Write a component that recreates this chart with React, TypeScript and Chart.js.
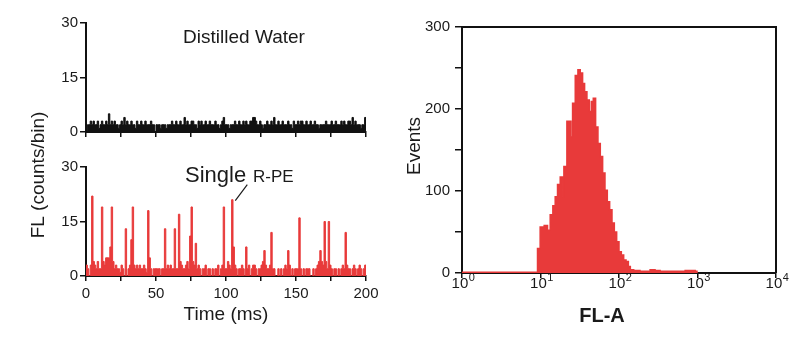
import React, { useEffect, useRef } from 'react';
import { Chart, registerables } from 'chart.js';

Chart.register(...registerables);

const FONT = '"Liberation Sans", Arial, Helvetica, sans-serif';
const TEXT_COLOR = '#1a1a1a';
const AXIS_COLOR = '#111111';
const RED = 'rgb(232, 58, 58)';

// ---- Time traces (1 ms bins, 0..200 ms) ----
const TIME_BIN_MS = 1;
const TIME_TICKS = [0, 25, 50, 75, 100, 125, 150, 175, 200];
const TIME_LABELS = [0, 50, 100, 150, 200];
const TRACE_Y_TICKS = [0, 15, 30];

const WATER_COUNTS = [
  0, 2, 2, 3, 2, 3, 2, 2, 3, 1,
  2, 3, 2, 2, 3, 2, 5, 2, 3, 2,
  3, 2, 2, 1, 2, 3, 2, 4, 2, 3,
  2, 2, 3, 2, 2, 1, 3, 2, 2, 3,
  2, 2, 3, 2, 2, 2, 3, 2, 2, 0,
  2, 2, 2, 1, 2, 2, 2, 1, 2, 2,
  2, 3, 2, 2, 3, 2, 2, 3, 2, 2,
  4, 2, 3, 2, 2, 3, 3, 2, 2, 1,
  3, 2, 3, 2, 2, 3, 2, 2, 3, 2,
  2, 2, 3, 2, 2, 1, 2, 3, 4, 2,
  2, 2, 1, 2, 2, 2, 3, 2, 2, 3,
  2, 2, 3, 2, 3, 2, 2, 3, 3, 4,
  4, 3, 2, 2, 3, 2, 1, 2, 2, 3,
  2, 2, 3, 2, 4, 2, 2, 3, 2, 2,
  3, 2, 2, 2, 3, 2, 2, 1, 3, 2,
  2, 3, 2, 3, 3, 2, 2, 3, 2, 2,
  3, 2, 2, 3, 2, 2, 1, 2, 2, 2,
  2, 3, 2, 2, 2, 3, 2, 2, 3, 2,
  2, 2, 3, 2, 3, 2, 2, 3, 3, 2,
  4, 2, 3, 2, 2, 2, 1, 2, 2, 4,
];

const RPE_COUNTS = [
  3, 2, 0, 3, 22, 4, 3, 2, 4, 2,
  2, 19, 4, 3, 5, 5, 5, 8, 19, 4,
  2, 3, 2, 2, 1, 3, 2, 0, 13, 0,
  2, 3, 10, 19, 3, 2, 3, 2, 3, 2,
  2, 3, 2, 1, 18, 5, 2, 0, 2, 2,
  2, 2, 2, 0, 2, 2, 13, 2, 3, 2,
  3, 2, 2, 13, 2, 2, 17, 4, 3, 2,
  2, 3, 4, 2, 11, 19, 4, 3, 9, 2,
  3, 2, 0, 2, 2, 3, 0, 2, 2, 0,
  2, 0, 2, 2, 3, 0, 2, 3, 19, 2,
  2, 4, 3, 2, 21, 8, 3, 2, 0, 2,
  2, 3, 2, 0, 8, 2, 3, 0, 2, 3,
  3, 2, 0, 2, 2, 3, 4, 7, 3, 2,
  2, 3, 12, 2, 2, 0, 0, 2, 0, 2,
  0, 2, 3, 2, 7, 3, 0, 2, 0, 2,
  2, 2, 16, 2, 0, 2, 0, 2, 2, 2,
  0, 0, 2, 0, 2, 3, 4, 7, 4, 3,
  15, 4, 2, 15, 3, 2, 0, 2, 2, 0,
  2, 0, 2, 3, 2, 12, 3, 2, 2, 0,
  2, 3, 2, 0, 2, 3, 2, 0, 2, 3,
];
const RPE_ANNOTATED_BIN = 104;

// ---- FL-A histogram (left bin edges, events) ----
const HIST_FL = [
  1, 9.16, 9.9, 11.14, 12.29, 13.29, 14.37, 15.39, 16.48, 17.83,
  19.28, 19.86, 21.69, 24.39, 25.62, 27.71, 29.97, 32.09, 34.38, 36.46,
  39.04, 41.82, 44.36, 47.02, 50.37, 53.94, 57.78, 61.88, 66.28, 70.99,
  76.03, 81.42, 87.2, 93.38, 100, 107.1, 114.7, 122.9, 131.6, 139.5,
  153.9, 185, 249, 288, 334, 494, 696, 806, 934, 985,
];
const HIST_EVENTS = [
  1, 30, 56, 58, 52, 71, 82, 93, 108, 117,
  93, 130, 185, 166, 207, 241, 248, 244, 231, 221,
  211, 197, 209, 213, 178, 158, 142, 122, 101, 87,
  77, 61, 50, 38, 26, 22, 16, 14, 8, 4,
  3, 2, 4, 3, 2, 2, 3, 3, 2, 0,
];
const HIST_X_TICKS = [1, 10, 100, 1000, 10000];
const HIST_X_BASE = '10';
const HIST_X_EXPONENTS = ['0', '1', '2', '3', '4'];
const HIST_Y_TICKS = [0, 50, 100, 150, 200, 250, 300];
const HIST_Y_LABELS = [0, 100, 200, 300];

type TextItem = {
  text: string;
  x: number;
  y: number;
  font: string;
  rotate?: boolean;
  align?: CanvasTextAlign;
  baseline?: CanvasTextBaseline;
};

function textPlugin(items: TextItem[], extra?: (chart: any) => void) {
  return {
    id: 'customTexts',
    afterDraw(chart: any) {
      const ctx = chart.ctx as CanvasRenderingContext2D;
      ctx.save();
      ctx.fillStyle = TEXT_COLOR;
      for (const it of items) {
        ctx.save();
        ctx.font = it.font;
        ctx.textAlign = it.align ?? 'center';
        ctx.textBaseline = it.baseline ?? 'middle';
        ctx.translate(it.x, it.y);
        if (it.rotate) ctx.rotate(-Math.PI / 2);
        ctx.fillText(it.text, 0, 0);
        ctx.restore();
      }
      if (extra) extra(chart);
      ctx.restore();
    },
  };
}

const tickFont = { family: FONT, size: 15 };

function traceConfig(
  values: number[],
  color: string,
  topPad: number,
  xHeight: number,
  showXLabels: boolean,
  plugins: any[]
): any {
  const pts = values.map((v, i) => ({ x: i * TIME_BIN_MS, y: v }));
  pts.push({ x: values.length * TIME_BIN_MS, y: values[values.length - 1] });
  return {
    type: 'line',
    data: {
      datasets: [
        {
          data: pts,
          stepped: true,
          fill: 'origin',
          borderColor: color,
          backgroundColor: color,
          borderWidth: 1,
          pointRadius: 0,
        },
      ],
    },
    options: {
      responsive: false,
      animation: false,
      events: [],
      layout: { padding: { top: topPad, right: 34, left: 0, bottom: 0 } },
      plugins: { legend: { display: false }, tooltip: { enabled: false } },
      scales: {
        x: {
          type: 'linear',
          min: 0,
          max: 200,
          afterBuildTicks: (s: any) => {
            s.ticks = TIME_TICKS.map((v) => ({ value: v }));
          },
          afterFit: (s: any) => {
            s.height = xHeight;
          },
          ticks: {
            autoSkip: false,
            maxRotation: 0,
            padding: 4,
            color: TEXT_COLOR,
            font: tickFont,
            callback: (v: any) => (showXLabels && TIME_LABELS.includes(Number(v)) ? String(v) : ''),
          },
          grid: { drawOnChartArea: false, tickLength: 5, color: AXIS_COLOR, lineWidth: 1.5 },
          border: { display: true, color: AXIS_COLOR, width: 2 },
        },
        y: {
          min: 0,
          max: 30,
          afterBuildTicks: (s: any) => {
            s.ticks = TRACE_Y_TICKS.map((v) => ({ value: v }));
          },
          afterFit: (s: any) => {
            s.width = 86;
          },
          ticks: { padding: 2, color: TEXT_COLOR, font: tickFont, callback: (v: any) => String(v) },
          grid: { drawOnChartArea: false, tickLength: 6, color: AXIS_COLOR, lineWidth: 1.5 },
          border: { display: true, color: AXIS_COLOR, width: 2 },
        },
      },
    },
    plugins,
  };
}

const framePlugin = {
  id: 'frame',
  afterDraw(chart: any) {
    const { ctx, chartArea } = chart;
    ctx.save();
    ctx.strokeStyle = AXIS_COLOR;
    ctx.lineWidth = 2;
    ctx.beginPath();
    ctx.moveTo(chartArea.left, chartArea.top);
    ctx.lineTo(chartArea.right, chartArea.top);
    ctx.lineTo(chartArea.right, chartArea.bottom);
    ctx.stroke();
    ctx.restore();
  },
};

// Power-of-ten labels with a real superscript exponent
const powerLabelsPlugin = {
  id: 'powerLabels',
  afterDraw(chart: any) {
    const ctx = chart.ctx as CanvasRenderingContext2D;
    const xs = chart.scales.x;
    const baseY = chart.chartArea.bottom + 15;
    ctx.save();
    ctx.fillStyle = TEXT_COLOR;
    ctx.textBaseline = 'alphabetic';
    ctx.textAlign = 'left';
    HIST_X_TICKS.forEach((v, i) => {
      const px = xs.getPixelForValue(v);
      ctx.font = `15px ${FONT}`;
      const w1 = ctx.measureText(HIST_X_BASE).width;
      ctx.font = `11px ${FONT}`;
      const w2 = ctx.measureText(HIST_X_EXPONENTS[i]).width;
      const start = px - (w1 + w2) / 2 + 1;
      ctx.font = `15px ${FONT}`;
      ctx.fillText(HIST_X_BASE, start, baseY);
      ctx.font = `11px ${FONT}`;
      ctx.fillText(HIST_X_EXPONENTS[i], start + w1 + 0.5, baseY - 7);
    });
    ctx.restore();
  },
};

export default function App() {
  const refA = useRef<HTMLCanvasElement>(null);
  const refB = useRef<HTMLCanvasElement>(null);
  const refC = useRef<HTMLCanvasElement>(null);

  useEffect(() => {
    document.body.style.margin = '0';
    Chart.defaults.font.family = FONT;

    const waterTexts = textPlugin([
      { text: 'Distilled Water', x: 244, y: 43, font: `19px ${FONT}`, baseline: 'alphabetic' },
    ]);

    const rpeTexts = textPlugin(
      [
        { text: 'FL (counts/bin)', x: 39, y: 175, font: `19px ${FONT}`, rotate: true },
        { text: 'Single', x: 185, y: 182, font: `22px ${FONT}`, align: 'left', baseline: 'alphabetic' },
        { text: 'R-PE', x: 253, y: 182, font: `17px ${FONT}`, align: 'left', baseline: 'alphabetic' },
        { text: 'Time (ms)', x: 226, y: 315, font: `19px ${FONT}` },
      ],
      (chart: any) => {
        const ctx = chart.ctx as CanvasRenderingContext2D;
        const xs = chart.scales.x;
        const ys = chart.scales.y;
        const px = xs.getPixelForValue((RPE_ANNOTATED_BIN + 0.5) * TIME_BIN_MS);
        const py = ys.getPixelForValue(RPE_COUNTS[RPE_ANNOTATED_BIN]);
        ctx.strokeStyle = TEXT_COLOR;
        ctx.lineWidth = 1.2;
        ctx.beginPath();
        ctx.moveTo(px + 15, py - 15);
        ctx.lineTo(px + 3, py + 1);
        ctx.stroke();
      }
    );

    const histTexts = textPlugin([
      { text: 'Events', x: 15, y: 146, font: `19px ${FONT}`, rotate: true },
      { text: 'FL-A', x: 202, y: 316, font: `bold 20px ${FONT}` },
    ]);

    const a = new Chart(refA.current!, traceConfig(WATER_COUNTS, '#111111', 23, 18, false, [waterTexts]));
    const b = new Chart(refB.current!, traceConfig(RPE_COUNTS, RED, 167, 73, true, [rpeTexts]));

    const c = new Chart(refC.current!, {
      type: 'line',
      data: {
        datasets: [
          {
            data: HIST_FL.map((x, i) => ({ x, y: HIST_EVENTS[i] })),
            stepped: true,
            fill: 'origin',
            borderColor: RED,
            backgroundColor: RED,
            borderWidth: 1.5,
            pointRadius: 0,
          },
        ],
      },
      options: {
        responsive: false,
        animation: false,
        events: [],
        layout: { padding: { top: 27, right: 24, left: 0, bottom: 0 } },
        plugins: { legend: { display: false }, tooltip: { enabled: false } },
        scales: {
          x: {
            type: 'logarithmic',
            min: 1,
            max: 10000,
            afterBuildTicks: (s: any) => {
              s.ticks = HIST_X_TICKS.map((v) => ({ value: v }));
            },
            afterFit: (s: any) => {
              s.height = 76;
            },
            ticks: {
              autoSkip: false,
              maxRotation: 0,
              callback: () => '',
            },
            grid: { drawOnChartArea: false, tickLength: 5, color: AXIS_COLOR, lineWidth: 1.5 },
            border: { display: true, color: AXIS_COLOR, width: 2 },
          },
          y: {
            min: 0,
            max: 300,
            afterBuildTicks: (s: any) => {
              s.ticks = HIST_Y_TICKS.map((v) => ({ value: v }));
            },
            afterFit: (s: any) => {
              s.width = 62;
            },
            ticks: {
              padding: 5,
              color: TEXT_COLOR,
              font: tickFont,
              callback: (v: any) => (HIST_Y_LABELS.includes(Number(v)) ? String(v) : ''),
            },
            grid: { drawOnChartArea: false, tickLength: 7, color: AXIS_COLOR, lineWidth: 1.5 },
            border: { display: true, color: AXIS_COLOR, width: 2 },
          },
        },
      },
      plugins: [framePlugin, powerLabelsPlugin, histTexts],
    } as any);

    return () => {
      a.destroy();
      b.destroy();
      c.destroy();
    };
  }, []);

  return (
    <div style={{ position: 'relative', width: 800, height: 349, background: '#ffffff', overflow: 'hidden' }}>
      <canvas ref={refA} width={400} height={150} style={{ position: 'absolute', left: 0, top: 0, width: 400, height: 150 }} />
      <canvas ref={refB} width={400} height={349} style={{ position: 'absolute', left: 0, top: 0, width: 400, height: 349 }} />
      <canvas ref={refC} width={400} height={349} style={{ position: 'absolute', left: 400, top: 0, width: 400, height: 349 }} />
    </div>
  );
}
